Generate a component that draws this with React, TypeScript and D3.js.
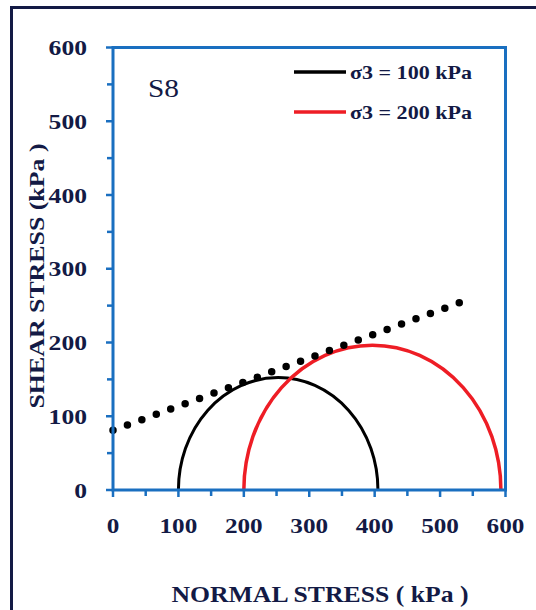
import React from "react";
import * as d3 from "d3";

const xTicks = [0, 100, 200, 300, 400, 500, 600];
const yTicks = [0, 100, 200, 300, 400, 500, 600];
const minorTicks = [50, 150, 250, 350, 450, 550];
const seriesLabels = ["σ3 = 100 kPa", "σ3 = 200 kPa"];
const seriesColors = ["#000000", "#EE1D25"];
const sigma3 = [100, 200];
const sigma1 = [405, 593];
const envelopeX = [0, 530];
const envelopeY = [81, 254];
const sampleName = "S8";

const W = 536;
const H = 610;
const left = 113;
const right = 505.5;
const top = 47.5;
const bottom = 490;
const navy = "#131a45";
const blue = "#1A6FC0";
const serif = "'Liberation Serif', 'Times New Roman', serif";

export default function App() {
  const x = d3.scaleLinear().domain([0, 600]).range([left, right]);
  const y = d3.scaleLinear().domain([0, 600]).range([bottom, top]);

  const envPts: [number, number][] = envelopeX.map((v, i) => [v, envelopeY[i]]);
  const line = d3
    .line<[number, number]>()
    .x((d) => x(d[0]))
    .y((d) => y(d[1]));
  const pxLen = Math.hypot(
    x(envelopeX[1]) - x(envelopeX[0]),
    y(envelopeY[1]) - y(envelopeY[0])
  );
  const gap = pxLen / 24 - 0.02;

  const arcs = sigma3.map((s3, i) => {
    const s1 = sigma1[i];
    const r = (s1 - s3) / 2;
    const rx = x(r) - x(0);
    const ry = y(0) - y(r);
    return `M${x(s3)},${y(0)} A${rx},${ry} 0 0 1 ${x(s1)},${y(0)}`;
  });

  return (
    <svg
      width={W}
      height={H}
      style={{ position: "absolute", left: 0, top: 0, background: "#fff" }}
    >
      <rect x={11.5} y={7.5} width={600} height={700} fill="#fff" stroke={navy} strokeWidth={3} />

      {arcs.map((d, i) => (
        <path key={i} d={d} fill="none" stroke={seriesColors[i]} strokeWidth={i === 0 ? 3 : 3.5} />
      ))}

      <path
        d={line(envPts) || ""}
        fill="none"
        stroke="#000"
        strokeWidth={7.5}
        strokeLinecap="round"
        strokeDasharray={`0 ${gap}`}
      />

      <rect x={left} y={top} width={right - left} height={bottom - top} fill="none" stroke={blue} strokeWidth={3} />

      {yTicks.map((t) => (
        <line key={"yt" + t} x1={left - 7} x2={left} y1={y(t)} y2={y(t)} stroke={blue} strokeWidth={2.5} />
      ))}
      {minorTicks.map((t) => (
        <line key={"ym" + t} x1={left - 6} x2={left} y1={y(t)} y2={y(t)} stroke={blue} strokeWidth={2.5} />
      ))}
      {xTicks.map((t) => (
        <line key={"xt" + t} x1={x(t)} x2={x(t)} y1={bottom} y2={bottom + 7} stroke={blue} strokeWidth={2.5} />
      ))}
      {minorTicks.map((t) => (
        <line key={"xm" + t} x1={x(t)} x2={x(t)} y1={bottom} y2={bottom + 6} stroke={blue} strokeWidth={2.5} />
      ))}

      {yTicks.map((t) => (
        <text
          key={"yl" + t}
          x={87}
          y={y(t)}
          dy="0.35em"
          textAnchor="end"
          fontFamily={serif}
          fontWeight="bold"
          fontSize={22}
          fill={navy}
          textLength={String(t).length * 12.8}
          lengthAdjust="spacingAndGlyphs"
        >
          {t}
        </text>
      ))}

      {xTicks.map((t) => (
        <text
          key={"xl" + t}
          x={x(t)}
          y={525}
          dy="0.35em"
          textAnchor="middle"
          fontFamily={serif}
          fontWeight="bold"
          fontSize={22}
          fill={navy}
          textLength={String(t).length * 12.6}
          lengthAdjust="spacingAndGlyphs"
        >
          {t}
        </text>
      ))}

      <text
        x={320}
        y={602}
        textAnchor="middle"
        fontFamily={serif}
        fontWeight="bold"
        fontSize={23}
        fill={navy}
        textLength={297}
        lengthAdjust="spacingAndGlyphs"
      >
        NORMAL STRESS ( kPa )
      </text>
      <text
        transform="translate(44,276) rotate(-90)"
        textAnchor="middle"
        fontFamily={serif}
        fontWeight="bold"
        fontSize={22}
        fill={navy}
        textLength={265}
        lengthAdjust="spacingAndGlyphs"
      >
        SHEAR STRESS (kPa )
      </text>

      <text
        x={148}
        y={97}
        fontFamily={serif}
        fontSize={26}
        fill={navy}
        textLength={31}
        lengthAdjust="spacingAndGlyphs"
      >
        {sampleName}
      </text>

      {seriesLabels.map((lab, i) => {
        const ly = i === 0 ? 72 : 112;
        return (
          <g key={lab}>
            <line x1={294} x2={346} y1={ly} y2={ly} stroke={seriesColors[i]} strokeWidth={3.5} />
            <text
              x={350}
              y={ly}
              dy="0.35em"
              fontFamily={serif}
              fontWeight="bold"
              fontSize={19}
              fill={navy}
              textLength={122}
              lengthAdjust="spacingAndGlyphs"
            >
              {lab}
            </text>
          </g>
        );
      })}
    </svg>
  );
}
